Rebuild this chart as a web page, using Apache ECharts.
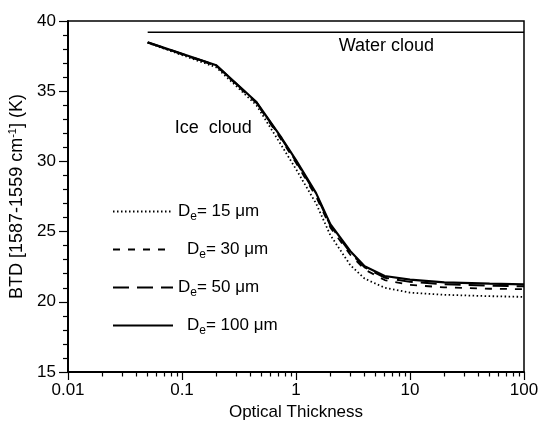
<!DOCTYPE html>
<html><head><meta charset="utf-8">
<script src="https://cdn.jsdelivr.net/npm/echarts@6/dist/echarts.min.js"></script>
<style>html,body{margin:0;padding:0;background:#fff}#c{width:541px;height:422px}</style>
</head><body><div id="c"></div>
<script>
// ---- data ----
const tau   = [0.05, 0.2, 0.45, 0.75, 1, 1.5, 2, 3, 4, 6, 10, 20, 50, 100];
const de15  = [38.45, 36.70, 34.00, 31.10, 29.45, 27.00, 24.75, 22.60, 21.65, 21.00, 20.65, 20.50, 20.40, 20.35];
const de30  = [38.47, 36.80, 34.15, 31.50, 29.90, 27.50, 25.30, 23.35, 22.30, 21.55, 21.20, 21.03, 20.93, 20.90];
const de50  = [38.48, 36.83, 34.20, 31.60, 30.00, 27.65, 25.45, 23.50, 22.45, 21.72, 21.42, 21.25, 21.15, 21.10];
const de100 = [38.48, 36.85, 34.23, 31.65, 30.09, 27.74, 25.53, 23.60, 22.54, 21.84, 21.58, 21.39, 21.29, 21.24];
const waterTau = [0.05, 100];
const waterBTD = [39.2, 39.2];
const seriesNames = ['15', '30', '50', '100'];
const xMinorTicks = [0.02,0.03,0.04,0.05,0.06,0.07,0.08,0.09,
                     0.2,0.3,0.4,0.5,0.6,0.7,0.8,0.9,
                     2,3,4,5,6,7,8,9,
                     20,30,40,50,60,70,80,90];
const xMajorTicks = [0.01, 0.1, 1, 10, 100];
const annotations = [
  {text: 'Water cloud', tau: 6.2, btd: 38.25},
  {text: 'Ice  cloud', tau: 0.188, btd: 32.35}
];
// --------------------------------------

const FONT = 'Liberation Sans, Arial, Helvetica, sans-serif';
const pairs = (xs, ys) => xs.map((x, i) => [x, ys[i]]);
const legendName = n => 'De= ' + n + ' μm';
const legendPad = {'15': false, '30': true, '50': false, '100': true};

const chart = echarts.init(document.getElementById('c'), null, {renderer: 'canvas'});

const lineDefs = [
  {data: de15,  type: [1.5, 2.5], width: 1.8},
  {data: de30,  type: [7, 8],     width: 1.8},
  {data: de50,  type: [16, 8],    width: 2},
  {data: de100, type: 'solid',    width: 2.2}
];

const series = lineDefs.map((d, i) => ({
  name: legendName(seriesNames[i]),
  type: 'line',
  xAxisIndex: 0, yAxisIndex: 0,
  data: pairs(tau, d.data),
  symbol: 'none',
  smooth: false,
  z: 3 + i,
  itemStyle: {color: '#000'},
  lineStyle: {color: '#000', width: d.width, type: d.type}
}));

series.push({
  name: 'water',
  type: 'line',
  data: pairs(waterTau, waterBTD),
  symbol: 'none',
  itemStyle: {color: '#000'},
  lineStyle: {color: '#000', width: 1.6, type: 'solid'},
  z: 2
});

series.push({
  name: 'labels',
  type: 'scatter',
  data: annotations.map(a => ({value: [a.tau, a.btd], label: {formatter: a.text}})),
  symbolSize: 0,
  itemStyle: {color: '#000'},
  silent: true,
  z: 10,
  label: {show: true, position: 'inside', color: '#000', opacity: 1, textBorderWidth: 0,
          fontFamily: FONT, fontSize: 18}
});

chart.setOption({
  animation: false,
  backgroundColor: '#fff',
  grid: {left: 68, right: 17, top: 21, bottom: 50, containLabel: false, outerBoundsMode: 'none',
         show: true, borderColor: '#000', borderWidth: 1.5},
  legend: {
    orient: 'vertical',
    left: 107, top: 198,
    itemWidth: 60, itemHeight: 14, itemGap: 18.5,
    data: seriesNames.map(legendName),
    selectedMode: false,
    itemStyle: {opacity: 0},
    formatter: function (name) {
      const n = name.replace('De= ', '').replace(' μm', '');
      return (legendPad[n] ? '{p|}' : '') + '{a|D}{b|e}{a|= ' + n + ' μm}';
    },
    textStyle: {
      color: '#000', fontFamily: FONT, fontSize: 17,
      rich: {
        p: {width: 9, fontSize: 17, lineHeight: 22},
        a: {fontFamily: FONT, fontSize: 17, color: '#000', lineHeight: 22},
        b: {fontFamily: FONT, fontSize: 12, color: '#000', padding: [10, 0, 0, 0]}
      }
    }
  },
  xAxis: [{
    type: 'log', logBase: 10, min: 0.01, max: 100,
    name: 'Optical Thickness', nameLocation: 'middle', nameGap: 31,
    nameTextStyle: {color: '#000', fontFamily: FONT, fontSize: 17},
    axisLine: {show: true, lineStyle: {color: '#000', width: 2}},
    axisTick: {show: true, inside: false, length: 8, lineStyle: {color: '#000', width: 1.2}, customValues: xMajorTicks},
    axisLabel: {color: '#000', fontFamily: FONT, fontSize: 17, margin: 10, customValues: xMajorTicks,
      formatter: v => String(v)},
    splitLine: {show: false}
  }, {
    type: 'log', logBase: 10, min: 0.01, max: 100, position: 'bottom',
    axisLine: {show: false},
    axisTick: {show: true, inside: false, length: 4.5, lineStyle: {color: '#000', width: 1.2}, customValues: xMinorTicks},
    axisLabel: {show: false},
    splitLine: {show: false}
  }],
  yAxis: {
    type: 'value', min: 15, max: 40, interval: 5,
    name: '{a|BTD [1587-1559 cm}{s|-1}{a|] (K)}', nameLocation: 'middle', nameGap: 36, nameRotate: 90,
    nameTextStyle: {color: '#000', fontFamily: FONT, fontSize: 18,
      rich: {
        a: {fontFamily: FONT, fontSize: 18, color: '#000'},
        s: {fontFamily: FONT, fontSize: 11, color: '#000', padding: [0, 0, 9, 0]}
      }},
    axisLine: {show: true, lineStyle: {color: '#000', width: 2}},
    axisTick: {show: true, inside: false, length: 9, lineStyle: {color: '#000', width: 1.2}},
    minorTick: {show: true, splitNumber: 5, length: 5, lineStyle: {color: '#000', width: 1.2}},
    axisLabel: {color: '#000', fontFamily: FONT, fontSize: 17, margin: 12},
    splitLine: {show: false}
  },
  series: series
});
</script>
</body></html>
